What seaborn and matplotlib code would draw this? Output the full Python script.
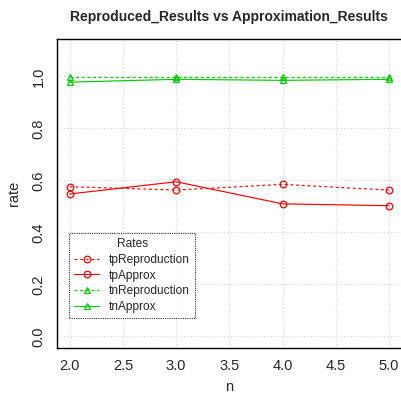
import matplotlib
matplotlib.use("Agg")
import matplotlib.pyplot as plt
import seaborn as sns
import numpy as np
import pandas as pd

n_values = [2.0, 3.0, 4.0, 5.0]
tpReproduction = [0.576, 0.563, 0.585, 0.563]
tpApprox = [0.548, 0.595, 0.510, 0.503]
tnReproduction = [0.998, 0.998, 0.998, 0.998]
tnApprox = [0.978, 0.989, 0.985, 0.989]
series_names = ["tpReproduction", "tpApprox", "tnReproduction", "tnApprox"]
x_ticks = [2.0, 2.5, 3.0, 3.5, 4.0, 4.5, 5.0]
y_ticks = [0.0, 0.2, 0.4, 0.6, 0.8, 1.0]

sns.set_style("white")
plt.rcParams['font.family'] = ['Liberation Sans', 'DejaVu Sans']

fig = plt.figure(figsize=(4.01, 3.94), dpi=100)
ax = fig.add_axes([0.142, 0.117, 0.86, 0.784])

red = "#FF0000"
green = "#00CD00"
dash = (0, (2.4, 2.4))
styles = {
    "tpReproduction": dict(color=red, linestyle=dash, marker="o"),
    "tpApprox": dict(color=red, linestyle="-", marker="o"),
    "tnReproduction": dict(color=green, linestyle=dash, marker="^"),
    "tnApprox": dict(color=green, linestyle="-", marker="^"),
}
data = {"tpReproduction": tpReproduction, "tpApprox": tpApprox,
        "tnReproduction": tnReproduction, "tnApprox": tnApprox}

for name in series_names:
    st = styles[name]
    sns.lineplot(x=n_values, y=data[name], ax=ax, color=st["color"],
                 linestyle=st["linestyle"], marker=st["marker"],
                 markersize=4.8, markerfacecolor="none", markeredgecolor=st["color"],
                 markeredgewidth=0.9, linewidth=0.85, label=name, zorder=3)

ax.set_xlim(1.88, 5.12)
ax.set_ylim(-0.044, 1.144)
ax.set_xticks(x_ticks)
ax.set_yticks(y_ticks)
ax.set_xticklabels([f"{v:.1f}" for v in x_ticks], fontsize=10.5)
ax.set_yticklabels([f"{v:.1f}" for v in y_ticks], fontsize=10.5, rotation=90, va="center")
ax.grid(True, color="#D3D3D3", linestyle=(0, (1, 2)), linewidth=0.8)
for s in ax.spines.values():
    s.set_color("black")
    s.set_linewidth(1.0)
ax.tick_params(axis="both", direction="out", length=5, width=1, color="black", pad=3)
ax.set_xlabel("n", fontsize=10.5, labelpad=5)
ax.set_ylabel("rate", fontsize=10.5, labelpad=8)
fig.suptitle("Reproduced_Results vs Approximation_Results", fontsize=10,
             fontweight="bold", x=0.57, y=0.975)

leg = ax.legend(title="Rates", loc="upper left", bbox_to_anchor=(0.035, 0.372),
                fontsize=8.6, title_fontsize=8.6, frameon=True, fancybox=False,
                borderpad=0.45, handlelength=2.1, handletextpad=0.8,
                labelspacing=0.3, borderaxespad=0)
leg.get_frame().set_edgecolor("black")
leg.get_frame().set_linewidth(0.8)
leg.get_frame().set_linestyle((0, (1, 1)))

fig.savefig("out.png", dpi=100)
